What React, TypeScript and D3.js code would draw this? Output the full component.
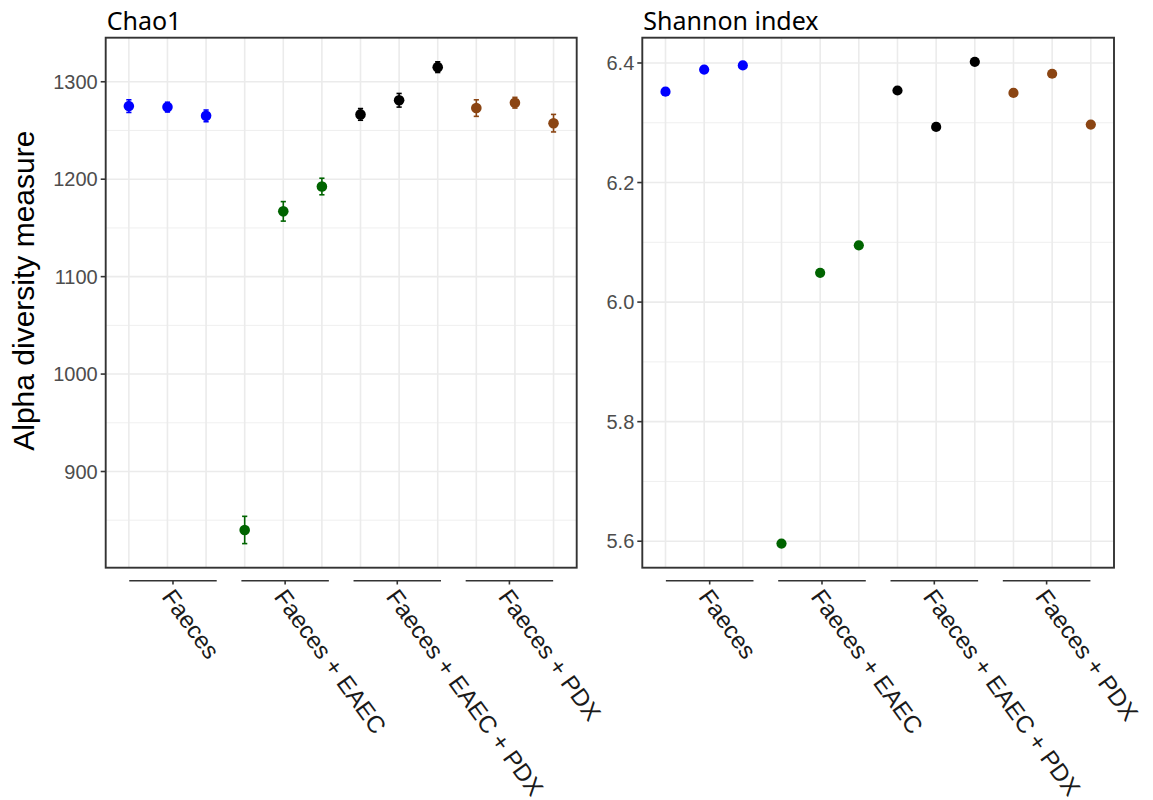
import React from 'react';
import * as d3 from 'd3';

// groups and sample layout
const groups = ['Faeces', 'Faeces + EAEC', 'Faeces + EAEC + PDX', 'Faeces + PDX'];
const groupColors = ['#0000FF', '#006400', '#000000', '#8B4513'];
const sampleIds = ['F1', 'F2', 'F3', 'E1', 'E2', 'E3', 'EP1', 'EP2', 'EP3', 'P1', 'P2', 'P3'];
const sampleGroup = [0, 0, 0, 1, 1, 1, 2, 2, 2, 3, 3, 3];

// Chao1 richness (mean and standard error)
const chao1 = [1275, 1274, 1265, 840, 1167, 1192.5, 1266.5, 1281, 1315, 1273, 1278.5, 1257.5];
const chao1Se = [6.5, 5, 6, 14, 10, 8.5, 6, 7, 5.5, 8.5, 5.5, 9];

// Shannon index
const shannon = [6.352, 6.389, 6.396, 5.596, 6.049, 6.095, 6.354, 6.293, 6.402, 6.35, 6.382, 6.297];

const chaoTicks = [900, 1000, 1100, 1200, 1300];
const shannonTicks = [5.6, 5.8, 6.0, 6.2, 6.4];

const W = 1153;
const H = 800;
const top = 37.7;
const bottom = 567.7;

type PanelProps = {
  title: string;
  left: number;
  right: number;
  values: number[];
  se: number[] | null;
  ticks: number[];
  minorStep: number;
  fmt: (v: number) => string;
  r: number;
};

const Panel = ({ title, left, right, values, se, ticks, minorStep, fmt, r }: PanelProps) => {
  const lo = d3.min(values.map((v, i) => v - (se ? se[i] : 0))) as number;
  const hi = d3.max(values.map((v, i) => v + (se ? se[i] : 0))) as number;
  const pad = (hi - lo) * 0.05;
  const y = d3.scaleLinear().domain([lo - pad, hi + pad]).range([bottom, top]);

  const x = d3.scalePoint<string>().domain(sampleIds).range([left, right]).padding(0.6);
  const gx = d3.scalePoint<string>().domain(groups).range([left, right]).padding(0.6);
  const half = gx.step() * 0.39;

  const minor: number[] = [];
  for (let i = 0; i < ticks.length + 1; i++) {
    const v = ticks[0] - minorStep + i * 2 * minorStep;
    if (v > y.domain()[0] && v < y.domain()[1]) minor.push(v);
  }

  return (
    <g>
      {/* grid */}
      {minor.map((v) => (
        <line key={'mn' + v} x1={left} x2={right} y1={y(v)} y2={y(v)} stroke="#EBEBEB" strokeWidth={0.8} />
      ))}
      {ticks.map((v) => (
        <line key={'mj' + v} x1={left} x2={right} y1={y(v)} y2={y(v)} stroke="#EBEBEB" strokeWidth={1.6} />
      ))}
      {sampleIds.map((s) => (
        <line key={'vx' + s} x1={x(s)} x2={x(s)} y1={top} y2={bottom} stroke="#EBEBEB" strokeWidth={1.6} />
      ))}

      {/* error bars */}
      {se &&
        values.map((v, i) => {
          const cx = x(sampleIds[i]) as number;
          const c = groupColors[sampleGroup[i]];
          return (
            <g key={'eb' + i} stroke={c} strokeWidth={1.6}>
              <line x1={cx} x2={cx} y1={y(v - se[i])} y2={y(v + se[i])} />
              <line x1={cx - 2.6} x2={cx + 2.6} y1={y(v - se[i])} y2={y(v - se[i])} />
              <line x1={cx - 2.6} x2={cx + 2.6} y1={y(v + se[i])} y2={y(v + se[i])} />
            </g>
          );
        })}

      {/* points */}
      {values.map((v, i) => (
        <circle key={'pt' + i} cx={x(sampleIds[i])} cy={y(v)} r={r} fill={groupColors[sampleGroup[i]]} />
      ))}

      {/* border */}
      <rect x={left} y={top} width={right - left} height={bottom - top} fill="none" stroke="#333333" strokeWidth={1.9} />

      {/* y axis */}
      {ticks.map((v) => (
        <g key={'yt' + v}>
          <line x1={left - 5} x2={left} y1={y(v)} y2={y(v)} stroke="#333333" strokeWidth={1.6} />
          <text x={left - 8} y={y(v)} dy="0.36em" textAnchor="end" fontSize={20} fill="#4D4D4D"
            fontFamily="'Liberation Sans', Arial, sans-serif">
            {fmt(v)}
          </text>
        </g>
      ))}

      {/* group brackets and labels */}
      {groups.map((g) => {
        const cx = gx(g) as number;
        return (
          <g key={'gx' + g}>
            <line x1={cx - half} x2={cx + half} y1={580.7} y2={580.7} stroke="#333333" strokeWidth={1.6} />
            <line x1={cx} x2={cx} y1={580.7} y2={584.5} stroke="#333333" strokeWidth={1.6} />
            <text transform={`translate(${cx - 5},${592}) rotate(54)`} dy="0.36em" textAnchor="start"
              fontSize={24} fill="#1A1A1A" fontFamily="'Liberation Sans', Arial, sans-serif">
              {g}
            </text>
          </g>
        );
      })}

      {/* title */}
      <text x={left + 1} y={30} fontSize={25} fill="#000" fontFamily="'Noto Sans', 'Open Sans', sans-serif">
        {title}
      </text>
    </g>
  );
};

const App = () => {
  return (
    <svg width={W} height={H} style={{ position: 'absolute', left: 0, top: 0, background: '#fff' }}>
      <rect width={W} height={H} fill="#fff" />
      <Panel title="Chao1" left={105.7} right={576.7} values={chao1} se={chao1Se} ticks={chaoTicks}
        minorStep={50} fmt={(v) => String(v)} r={5.3} />
      <Panel title="Shannon index" left={642.3} right={1114} values={shannon} se={null} ticks={shannonTicks}
        minorStep={0.1} fmt={(v) => v.toFixed(1)} r={5.1} />
      <text transform={`translate(${34},${(top + bottom) / 2 - 12}) rotate(-90)`} textAnchor="middle"
        fontSize={30} fill="#000" fontFamily="'Liberation Sans', Arial, sans-serif">
        Alpha diversity measure
      </text>
    </svg>
  );
};

export default App;
